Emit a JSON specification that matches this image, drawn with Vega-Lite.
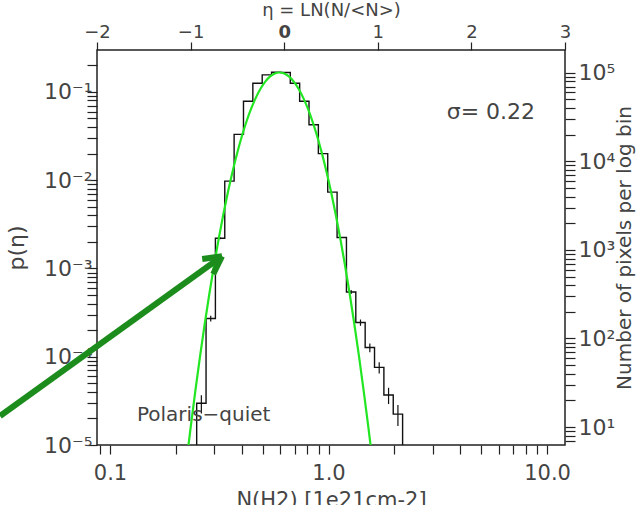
{
  "$schema": "https://vega.github.io/schema/vega-lite/v6.json",
  "width": 468,
  "height": 395,
  "autosize": {"type": "none"},
  "padding": {"left": 97, "top": 50, "right": 73, "bottom": 60},
  "config": {
    "view": {"stroke": "#222", "strokeWidth": 1.5},
    "axis": {
      "domain": false, "grid": false,
      "labelFont": "DejaVu Sans", "titleFont": "DejaVu Sans",
      "labelColor": "#444", "titleColor": "#444",
      "tickColor": "#222", "tickWidth": 1.2,
      "titleFontWeight": "normal",
      "labelOverlap": false, "labelBound": false, "labelFlush": false
    }
  },
  "layer": [
    {
      "encoding": {
        "x": {
          "field": "eta", "type": "quantitative",
          "scale": {"domain": [-2, 3], "nice": false, "zero": false},
          "axis": {
            "orient": "top", "title": "η = LN(N/<N>)",
            "values": [-2, -1, 0, 1, 2, 3],
            "labelExpr": "datum.value < 0 ? '−' + abs(datum.value) : '' + datum.value",
            "labelFontSize": 18, "titleFontSize": 18,
            "tickSize": 8, "labelPadding": 1, "titlePadding": 4,
            "labelFontWeight": {"condition": {"test": "datum.value == 0", "value": "bold"}, "value": "normal"},
            "encode": {"ticks": {"update": {"y2": {"value": 8}}}}
          }
        },
        "y": {
          "field": "p", "type": "quantitative",
          "scale": {"type": "log", "domain": [1e-5, 0.2985], "nice": false},
          "axis": {
            "orient": "left", "title": "p(η)",
            "values": [1e-5, 2e-5, 3e-5, 4e-5, 5e-5, 6e-5, 7e-5, 8e-5, 9e-5,
                       1e-4, 2e-4, 3e-4, 4e-4, 5e-4, 6e-4, 7e-4, 8e-4, 9e-4,
                       1e-3, 2e-3, 3e-3, 4e-3, 5e-3, 6e-3, 7e-3, 8e-3, 9e-3,
                       1e-2, 2e-2, 3e-2, 4e-2, 5e-2, 6e-2, 7e-2, 8e-2, 9e-2,
                       0.1, 0.2],
            "labelExpr": "abs(log(datum.value)/LN10 - round(log(datum.value)/LN10)) < 0.001 ? '10' + ['⁻⁵','⁻⁴','⁻³','⁻²','⁻¹'][round(log(datum.value)/LN10) + 5] : ''",
            "labelFontSize": 22, "titleFontSize": 22,
            "tickSize": 10, "labelPadding": -5, "titlePadding": 15,
            "encode": {"ticks": {"update": {"x2": {"signal": "abs(log(datum.value)/LN10 - round(log(datum.value)/LN10)) < 0.001 ? 10 : 5"}}}}
          }
        }
      },
      "layer": [
        {
          "data": {"values": [
            {"i": 0, "eta": -0.935, "p": 1e-6},
            {"i": 1, "eta": -0.935, "p": 2.97e-5},
            {"i": 2, "eta": -0.835, "p": 2.71e-4},
            {"i": 3, "eta": -0.735, "p": 2.20e-3},
            {"i": 4, "eta": -0.635, "p": 9.77e-3},
            {"i": 5, "eta": -0.535, "p": 0.0330},
            {"i": 6, "eta": -0.435, "p": 0.0785},
            {"i": 7, "eta": -0.335, "p": 0.1253},
            {"i": 8, "eta": -0.235, "p": 0.156},
            {"i": 9, "eta": -0.135, "p": 0.167},
            {"i": 10, "eta": -0.035, "p": 0.166},
            {"i": 11, "eta": 0.065, "p": 0.1253},
            {"i": 12, "eta": 0.165, "p": 0.0785},
            {"i": 13, "eta": 0.265, "p": 0.0425},
            {"i": 14, "eta": 0.365, "p": 0.0200},
            {"i": 15, "eta": 0.465, "p": 7.33e-3},
            {"i": 16, "eta": 0.565, "p": 2.24e-3},
            {"i": 17, "eta": 0.665, "p": 5.42e-4},
            {"i": 18, "eta": 0.765, "p": 2.44e-4},
            {"i": 19, "eta": 0.865, "p": 1.27e-4},
            {"i": 20, "eta": 0.965, "p": 7.57e-5},
            {"i": 21, "eta": 1.065, "p": 3.68e-5},
            {"i": 22, "eta": 1.165, "p": 2.24e-5},
            {"i": 23, "eta": 1.265, "p": 2.24e-5},
            {"i": 24, "eta": 1.265, "p": 1e-6}
          ]},
          "mark": {"type": "line", "interpolate": "step-after", "color": "#111", "strokeWidth": 1.4, "clip": true},
          "encoding": {"order": {"field": "i", "type": "quantitative"}}
        },
        {
          "data": {"values": [
            {"eta": -0.885, "p": 2.28e-5, "p2": 3.66e-5},
            {"eta": -0.785, "p": 2.50e-4, "p2": 2.92e-4},
            {"eta": -0.685, "p": 2.14e-3, "p2": 2.26e-3},
            {"eta": 0.715, "p": 5.12e-4, "p2": 5.72e-4},
            {"eta": 0.815, "p": 2.24e-4, "p2": 2.64e-4},
            {"eta": 0.915, "p": 1.127e-4, "p2": 1.413e-4},
            {"eta": 1.015, "p": 6.46e-5, "p2": 8.68e-5},
            {"eta": 1.115, "p": 2.91e-5, "p2": 4.45e-5},
            {"eta": 1.215, "p": 1.64e-5, "p2": 2.84e-5}
          ]},
          "mark": {"type": "rule", "color": "#111", "strokeWidth": 1.2, "clip": true},
          "encoding": {"y2": {"field": "p2"}}
        },
        {
          "data": {"values": [
            {"eta": -1.05, "p": 5.75e-6}, {"eta": -1.0, "p": 1.566e-5},
            {"eta": -0.95, "p": 4.05e-5}, {"eta": -0.9, "p": 9.94e-5},
            {"eta": -0.85, "p": 2.32e-4}, {"eta": -0.8, "p": 5.14e-4},
            {"eta": -0.75, "p": 1.08e-3}, {"eta": -0.7, "p": 2.166e-3},
            {"eta": -0.65, "p": 4.11e-3}, {"eta": -0.6, "p": 7.43e-3},
            {"eta": -0.55, "p": 0.01274}, {"eta": -0.5, "p": 0.02074},
            {"eta": -0.45, "p": 0.03209}, {"eta": -0.4, "p": 0.04716},
            {"eta": -0.35, "p": 0.0658}, {"eta": -0.3, "p": 0.0873},
            {"eta": -0.25, "p": 0.1101}, {"eta": -0.2, "p": 0.1317},
            {"eta": -0.15, "p": 0.1498}, {"eta": -0.1, "p": 0.1617},
            {"eta": -0.05, "p": 0.1660}, {"eta": 0.0, "p": 0.1617},
            {"eta": 0.05, "p": 0.1498}, {"eta": 0.1, "p": 0.1317},
            {"eta": 0.15, "p": 0.1101}, {"eta": 0.2, "p": 0.0873},
            {"eta": 0.25, "p": 0.0658}, {"eta": 0.3, "p": 0.04716},
            {"eta": 0.35, "p": 0.03209}, {"eta": 0.4, "p": 0.02074},
            {"eta": 0.45, "p": 0.01274}, {"eta": 0.5, "p": 7.43e-3},
            {"eta": 0.55, "p": 4.11e-3}, {"eta": 0.6, "p": 2.166e-3},
            {"eta": 0.65, "p": 1.08e-3}, {"eta": 0.7, "p": 5.14e-4},
            {"eta": 0.75, "p": 2.32e-4}, {"eta": 0.8, "p": 9.94e-5},
            {"eta": 0.85, "p": 4.05e-5}, {"eta": 0.9, "p": 1.566e-5},
            {"eta": 0.95, "p": 5.75e-6}
          ]},
          "mark": {"type": "line", "color": "#22e622", "strokeWidth": 2.2, "clip": true, "interpolate": "monotone"},
          "encoding": {}
        },
        {
          "data": {"values": [
            {"seg": "shaft", "i": 0, "eta": -3.036, "p": 2.13e-5},
            {"seg": "shaft", "i": 1, "eta": -0.6645, "p": 1.374e-3},
            {"seg": "b1", "i": 0, "eta": -0.876, "p": 1.281e-3},
            {"seg": "b1", "i": 1, "eta": -0.6645, "p": 1.374e-3},
            {"seg": "b2", "i": 0, "eta": -0.7585, "p": 8.62e-4},
            {"seg": "b2", "i": 1, "eta": -0.6645, "p": 1.374e-3}
          ]},
          "mark": {"type": "line", "color": "#1c8c1c", "strokeWidth": 6, "strokeCap": "butt", "clip": false},
          "encoding": {"detail": {"field": "seg"}, "order": {"field": "i", "type": "quantitative"}}
        },
        {
          "data": {"values": [{"eta": 1.736, "p": 0.0593, "t": "σ= 0.22"}]},
          "mark": {"type": "text", "align": "left", "baseline": "middle", "font": "DejaVu Sans", "fontSize": 22, "color": "#444"},
          "encoding": {"text": {"field": "t"}}
        },
        {
          "data": {"values": [{"eta": -1.573, "p": 1.868e-5, "t": "Polaris−quiet"}]},
          "mark": {"type": "text", "align": "left", "baseline": "alphabetic", "font": "DejaVu Sans", "fontSize": 20, "color": "#444"},
          "encoding": {"text": {"field": "t"}}
        }
      ]
    },
    {
      "data": {"values": [{"N": 1, "C": 100}]},
      "mark": {"type": "point", "opacity": 0},
      "encoding": {
        "x": {
          "field": "N", "type": "quantitative",
          "scale": {"type": "log", "domain": [0.0872, 12.08], "nice": false},
          "axis": {
            "orient": "bottom", "title": "N(H2) [1e21cm-2]",
            "values": [0.09, 0.1, 0.2, 0.3, 0.4, 0.5, 0.6, 0.7, 0.8, 0.9, 1, 2, 3, 4, 5, 6, 7, 8, 9, 10],
            "labelExpr": "abs(datum.value - 0.1) < 1e-9 ? '0.1' : abs(datum.value - 1) < 1e-9 ? '1.0' : abs(datum.value - 10) < 1e-9 ? '10.0' : ''",
            "labelFontSize": 21, "titleFontSize": 21,
            "tickSize": 9, "labelPadding": 8, "titlePadding": 6,
            "encode": {"ticks": {"update": {"y2": {"signal": "abs(log(datum.value)/LN10 - round(log(datum.value)/LN10)) < 0.001 ? -9 : -5"}}}}
          }
        },
        "y": {
          "field": "C", "type": "quantitative",
          "scale": {"type": "log", "domain": [6.27, 181000], "nice": false},
          "axis": {
            "orient": "right", "title": "Number of pixels per log bin",
            "values": [7, 8, 9, 10, 20, 30, 40, 50, 60, 70, 80, 90,
                       100, 200, 300, 400, 500, 600, 700, 800, 900,
                       1000, 2000, 3000, 4000, 5000, 6000, 7000, 8000, 9000,
                       10000, 20000, 30000, 40000, 50000, 60000, 70000, 80000, 90000, 100000],
            "labelExpr": "abs(log(datum.value)/LN10 - round(log(datum.value)/LN10)) < 0.001 ? '10' + ['¹','²','³','⁴','⁵'][round(log(datum.value)/LN10) - 1] : ''",
            "labelFontSize": 22, "titleFontSize": 20,
            "tickSize": 10, "labelPadding": 3, "titlePadding": 0,
            "titleAngle": 270, "titleBaseline": "top",
            "encode": {"ticks": {"update": {"x2": {"signal": "abs(log(datum.value)/LN10 - round(log(datum.value)/LN10)) < 0.001 ? -10 : -5"}}}}
          }
        }
      }
    }
  ],
  "resolve": {
    "scale": {"x": "independent", "y": "independent"},
    "axis": {"x": "independent", "y": "independent"}
  }
}
